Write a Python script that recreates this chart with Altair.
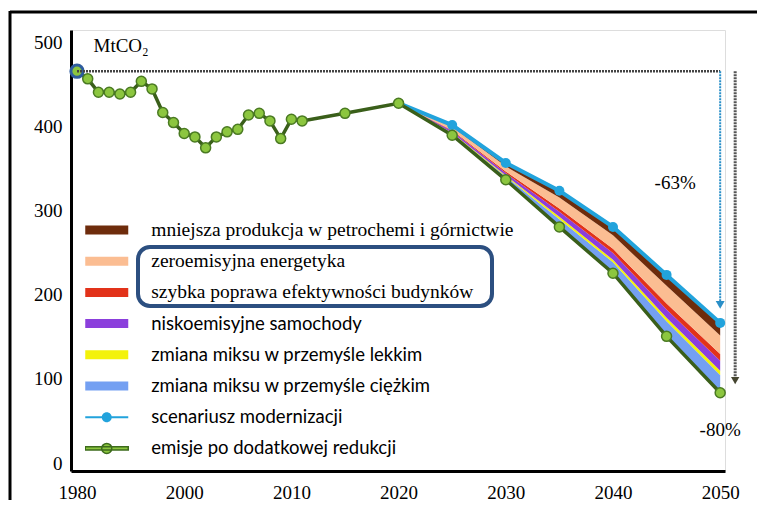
import altair as alt
import pandas as pd

# ---------------- data ----------------
hist_years = list(range(1990, 2012)) + [2015]
hist_vals = [475, 466, 450, 450, 448, 450, 463, 454, 426, 414, 401, 397, 384,
             397, 403, 406, 423, 425, 416, 395, 418, 416, 425]

proj_years = [2020, 2025, 2030, 2035, 2040, 2045, 2050]
modern_vals = [437, 411, 366, 333, 290, 233, 176]    # scenariusz modernizacji
reduced_vals = [437, 399, 346, 290, 235, 160, 93]    # emisje po dodatkowej redukcji

band_names = [
    "mniejsza produkcja w petrochemi i górnictwie",
    "zeroemisyjna energetyka",
    "szybka poprawa efektywności budynków",
    "niskoemisyjne samochody",
    "zmiana miksu w przemyśle lekkim",
    "zmiana miksu w przemyśle ciężkim",
]
band_colors = ["#6e2c0c", "#fbbd92", "#e2321a", "#8b3fdc", "#f3f20a", "#74a0f2"]
# width of each reduction wedge (MtCO2) per projection year, top band first
band_widths = [
    [0, 2, 4, 8, 10, 13, 15],
    [0, 4, 6, 13, 16, 21, 22],
    [0, 1, 2, 4, 5, 7, 8],
    [0, 2, 3, 6, 8, 10, 12],
    [0, 1, 1, 3, 3, 4, 5],
    [0, 2, 4, 9, 13, 18, 21],
]
line_names = ["scenariusz modernizacji", "emisje po dodatkowej redukcji"]
line_colors = ["#22a3dc", "#8cc63f"]

x_tick_values = [1990, 2000, 2010, 2020, 2030, 2040, 2050]
x_tick_labels = ["1980", "2000", "2010", "2020", "2030", "2040", "2050"]
y_tick_values = [0, 100, 200, 300, 400, 500]

# ---------------- tables ----------------
band_rows = []
for i, yr in enumerate(proj_years):
    lo = reduced_vals[i]
    for b in reversed(range(len(band_names))):
        hi = lo + band_widths[b][i]
        band_rows.append({"year": yr, "series": band_names[b], "lo": lo, "hi": hi, "order": b})
        lo = hi
bands = pd.DataFrame(band_rows)

green = pd.DataFrame({"year": hist_years + proj_years, "value": hist_vals + reduced_vals})
blue = pd.DataFrame({"year": proj_years, "value": modern_vals})
first = pd.DataFrame({"year": [hist_years[0]], "value": [hist_vals[0]]})

base = hist_vals[0]
ann = pd.DataFrame({
    "x1": [hist_years[0]], "x2": [proj_years[-1]], "base": [base],
    "blue_end": [modern_vals[-1]], "green_end": [reduced_vals[-1]],
    "mid": [(base + modern_vals[-1]) / 2],
    "t63": [f"{round((modern_vals[-1] / base - 1) * 100)}%"],
    "t80": [f"{round((reduced_vals[-1] / base - 1) * 100)}%"],
})
one = pd.DataFrame({"a": [0]})

SERIF = "Liberation Serif"
SANS = "Lato"

label_expr = "[" + ",".join(f"'{l}'" for l in x_tick_labels) + "][indexof([" + \
    ",".join(str(v) for v in x_tick_values) + "], datum.value)]"

x_scale = alt.Scale(domain=[1989.44, 2050.45], nice=False, zero=False)
y_scale = alt.Scale(domain=[0, 524], nice=False)
x_axis = alt.Axis(values=x_tick_values, labelExpr=label_expr, ticks=False, grid=False,
                  domainColor="black", domainWidth=3, labelFont=SERIF, labelFontSize=19,
                  labelColor="black", labelPadding=12, title=None)
y_axis = alt.Axis(values=y_tick_values, ticks=False, grid=False, domainColor="black",
                  domainWidth=3, labelFont=SERIF, labelFontSize=19, labelColor="black",
                  labelPadding=9, labelOffset=-8, title="MtCO₂", titleAngle=0,
                  titleX=22, titleY=15, titleAlign="left", titleBaseline="middle",
                  titleFont=SERIF, titleFontSize=19, titleFontWeight="normal",
                  titleColor="black")


def X(f):
    return alt.X(f"{f}:Q", scale=x_scale, axis=x_axis)


def Y(f):
    return alt.Y(f"{f}:Q", scale=y_scale, axis=y_axis, stack=None)


legend_names = band_names + line_names
band_path = "M-2.15,-0.45H2.15V0.45H-2.15Z"
blue_path = "M-2.15,-0.1H2.15V0.1H-2.15Z M-0.5,0A0.5,0.5,0,1,1,0.5,0A0.5,0.5,0,1,1,-0.5,0Z"
green_path = "M-2.15,-0.16H2.15V0.16H-2.15Z M-0.5,0A0.5,0.5,0,1,1,0.5,0A0.5,0.5,0,1,1,-0.5,0Z"
sym_expr = (f"datum.label == '{line_names[0]}' ? '{blue_path}' : "
            f"(datum.label == '{line_names[1]}' ? '{green_path}' : '{band_path}')")
serif_test = "indexof([" + ",".join(f"'{n}'" for n in band_names[:3]) + "], datum.label) >= 0"
font_expr = f"{serif_test} ? '{SERIF}' : '{SANS}'"
size_expr = f"{serif_test} ? 19.5 : 18.5"
stroke_expr = f"datum.label == '{line_names[1]}' ? '#3d6b1c' : 'transparent'"

legend = alt.Legend(title=None, orient="none", legendX=14, legendY=189, padding=0,
                    symbolType=alt.ExprRef(expr=sym_expr), symbolSize=400,
                    symbolStrokeColor=alt.ExprRef(expr=stroke_expr), symbolStrokeWidth=1.5,
                    symbolOpacity=1, symbolOffset=10.75, labelOffset=33.5,
                    labelFont=alt.ExprRef(expr=font_expr),
                    labelFontSize=alt.ExprRef(expr=size_expr),
                    labelColor="black", labelLimit=0, clipHeight=22, rowPadding=9.2)

areas = alt.Chart(bands).mark_area(opacity=1).encode(
    x=X("year"), y=Y("hi"), y2="lo",
    color=alt.Color("series:N", scale=alt.Scale(domain=legend_names,
                                                range=band_colors + line_colors),
                    legend=legend),
    order=alt.Order("order:Q"),
)

blue_line = alt.Chart(blue).mark_line(color="#22a3dc", strokeWidth=4).encode(
    x=X("year"), y=Y("value"))
blue_pts = alt.Chart(blue).mark_point(filled=True, color="#22a3dc", size=100, opacity=1).encode(
    x=X("year"), y=Y("value"))
green_line = alt.Chart(green).mark_line(color="#3a5f1a", strokeWidth=3.5).encode(
    x=X("year"), y=Y("value"))
green_pts = alt.Chart(green).mark_point(filled=True, fill="#8cc63f", stroke="#4a7a22",
                                        strokeWidth=1.5, size=100, opacity=1).encode(
    x=X("year"), y=Y("value"))
first_pt = alt.Chart(first).mark_point(filled=True, fill="#8cc63f", stroke="#2f5d9e",
                                       strokeWidth=3, size=150, opacity=1).encode(
    x=X("year"), y=Y("value"))

hline = alt.Chart(ann).mark_rule(color="#444444", strokeWidth=2.5, strokeDash=[2, 1]).encode(
    x=X("x1"), x2="x2", y=Y("base"))
blue_arrow = alt.Chart(ann).mark_rule(color="#2a8fc8", strokeWidth=2, strokeDash=[2, 1],
                                      y2Offset=-20).encode(
    x=X("x2"), y=Y("base"), y2="blue_end")
blue_head = alt.Chart(ann).mark_point(shape="triangle-down", filled=True, color="#2a8fc8",
                                      size=80, opacity=1, yOffset=-18).encode(
    x=X("x2"), y=Y("blue_end"))
grey_arrow = alt.Chart(ann).mark_rule(color="#555555", strokeWidth=3, strokeDash=[2, 1],
                                      xOffset=15, x2Offset=15, y2Offset=-15).encode(
    x=X("x2"), y=Y("base"), y2="green_end")
grey_head = alt.Chart(ann).mark_point(shape="triangle-down", filled=True, color="#454530",
                                      size=70, opacity=1, xOffset=15, yOffset=-12).encode(
    x=X("x2"), y=Y("green_end"))
txt63 = alt.Chart(ann).mark_text(font=SERIF, fontSize=19, color="black", dx=-45, dy=-14).encode(
    x=X("x2"), y=Y("mid"), text="t63:N")
txt80 = alt.Chart(ann).mark_text(font=SERIF, fontSize=19, color="black", dy=37).encode(
    x=X("x2"), y=Y("green_end"), text="t80:N")

box = alt.Chart(one).mark_rect(fill="transparent", stroke="#2c4f80", strokeWidth=4,
                               cornerRadius=12).encode(
    x=alt.value(67), x2=alt.value(421), y=alt.value(217), y2=alt.value(276))
# outer picture frame: top and left edges
frame_top = alt.Chart(one).mark_rule(color="black", strokeWidth=3).encode(
    x=alt.value(-61), x2=alt.value(700), y=alt.value(-18), y2=alt.value(-18))
frame_left = alt.Chart(one).mark_rule(color="black", strokeWidth=3).encode(
    x=alt.value(-61), x2=alt.value(-61), y=alt.value(-19), y2=alt.value(470))

chart = alt.layer(
    areas, blue_line, blue_pts, green_line, green_pts, first_pt,
    hline, blue_arrow, blue_head, grey_arrow, grey_head, txt63, txt80,
    box, frame_top, frame_left,
).properties(
    width=654, height=441,
    autosize=alt.AutoSizeParams(type="none"),
    padding={"left": 63, "top": 22, "right": 32, "bottom": 30},
).configure_view(stroke=None).configure(background="white")

chart.save("out.html", embed_options={"renderer": "svg", "actions": False})
